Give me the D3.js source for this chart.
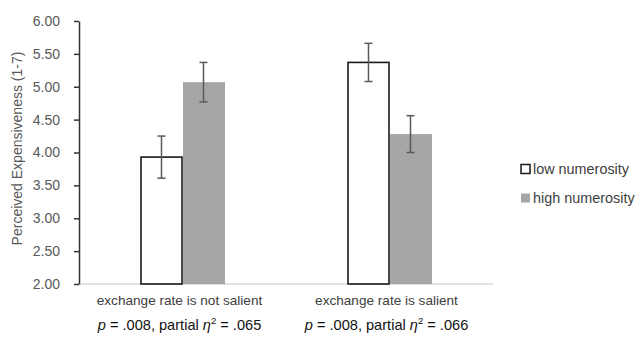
<!DOCTYPE html>
<html>
<head>
<meta charset="utf-8">
<script src="https://cdn.jsdelivr.net/npm/d3@7"></script>
<style>
  body { margin: 0; background: #fff; }
  svg { font-family: "Liberation Sans", Arial, sans-serif; }
</style>
</head>
<body>
<svg id="drawing_region"></svg>
<script>
// chart values
const categories = ['exchange rate is not salient', 'exchange rate is salient'];
const stats = [{ p: '.008', eta: '.065' }, { p: '.008', eta: '.066' }];
const seriesNames = ['low numerosity', 'high numerosity'];
const lowValues = [3.93, 5.37];
const highValues = [5.07, 4.28];
const lowErrors = [0.32, 0.29];
const highErrors = [0.30, 0.28];
const yTicks = [2, 2.5, 3, 3.5, 4, 4.5, 5, 5.5, 6];

const width = 637, height = 341;
const margin = { left: 79, right: 144, top: 21, bottom: 57 };

const svg = d3.select('#drawing_region')
    .attr('width', width)
    .attr('height', height);

const x = d3.scaleBand()
    .domain(categories)
    .range([margin.left, width - margin.right]);

const y = d3.scaleLinear()
    .domain([2, 6])
    .range([height - margin.bottom, margin.top]);

const barW = 42;
const series = [
    { name: seriesNames[0], values: lowValues, errors: lowErrors, fill: '#ffffff', stroke: '#1a1a1a' },
    { name: seriesNames[1], values: highValues, errors: highErrors, fill: '#a6a6a6', stroke: 'none' }
];

// x axis baseline
svg.append('line')
    .attr('x1', margin.left).attr('x2', width - margin.right)
    .attr('y1', y(2)).attr('y2', y(2))
    .attr('stroke', '#d9d9d9').attr('stroke-width', 1.5);

// bars
series.forEach((s, si) => {
    svg.append('g').selectAll('rect')
        .data(categories)
        .enter()
        .append('rect')
        .attr('x', d => x(d) + x.bandwidth() / 2 - barW + si * barW + 0.5)
        .attr('y', (d, i) => y(s.values[i]))
        .attr('width', barW - (si === 0 ? 1 : 0))
        .attr('height', (d, i) => y(2) - y(s.values[i]))
        .attr('fill', s.fill)
        .attr('stroke', s.stroke)
        .attr('stroke-width', 1.6);
});

// error bars
series.forEach((s, si) => {
    const g = svg.append('g').attr('stroke', '#595959').attr('stroke-width', 1.5);
    categories.forEach((c, i) => {
        const cx = x(c) + x.bandwidth() / 2 - barW / 2 + si * barW;
        const hi = y(s.values[i] + s.errors[i]);
        const lo = y(s.values[i] - s.errors[i]);
        g.append('line').attr('x1', cx).attr('x2', cx).attr('y1', hi).attr('y2', lo);
        g.append('line').attr('x1', cx - 4).attr('x2', cx + 4).attr('y1', hi).attr('y2', hi);
        g.append('line').attr('x1', cx - 4).attr('x2', cx + 4).attr('y1', lo).attr('y2', lo);
    });
});

// y axis
const yAxis = svg.append('g')
    .attr('transform', `translate(${margin.left},0)`)
    .call(d3.axisLeft(y).tickValues(yTicks).tickFormat(d3.format('.2f')).tickSize(5).tickSizeOuter(0));
yAxis.select('.domain').attr('stroke', '#333').attr('stroke-width', 1.5);
yAxis.selectAll('.tick line').attr('stroke', '#333').attr('stroke-width', 1.5);
yAxis.selectAll('.tick text')
    .attr('x', -19)
    .attr('fill', '#595959')
    .style('font-size', '14px')
    .style('font-family', '"Liberation Sans", Arial, sans-serif');

svg.append('text')
    .attr('transform', `translate(22,${(y(2) + y(6)) / 2 - 4}) rotate(-90)`)
    .attr('text-anchor', 'middle')
    .attr('fill', '#595959')
    .style('font-size', '14px')
    .text('Perceived Expensiveness (1-7)');

// category labels
svg.append('g').selectAll('text')
    .data(categories)
    .enter()
    .append('text')
    .attr('x', d => x(d) + x.bandwidth() / 2 - 3)
    .attr('y', 305)
    .attr('text-anchor', 'middle')
    .attr('fill', '#404040')
    .style('font-size', '13.6px')
    .text(d => d);

const statText = svg.append('g').selectAll('text')
    .data(categories)
    .enter()
    .append('text')
    .attr('x', d => x(d) + x.bandwidth() / 2 - 3)
    .attr('y', 330)
    .attr('text-anchor', 'middle')
    .attr('fill', '#111')
    .style('font-size', '14.6px');
statText.each(function (d, i) {
    const t = d3.select(this);
    t.append('tspan').style('font-style', 'italic').text('p');
    t.append('tspan').text(` = ${stats[i].p}, partial `);
    t.append('tspan').style('font-style', 'italic').text('η');
    t.append('tspan').attr('dy', -6).style('font-size', '9.5px').text('2');
    t.append('tspan').attr('dy', 6).text(` = ${stats[i].eta}`);
});

// legend
const legend = svg.append('g');
series.forEach((s, si) => {
    const ly = 169 + si * 29;
    legend.append('rect')
        .attr('x', 521).attr('y', ly - 4.5)
        .attr('width', 9).attr('height', 9)
        .attr('fill', s.fill)
        .attr('stroke', s.stroke === 'none' ? 'none' : '#1a1a1a')
        .attr('stroke-width', 1.5);
    legend.append('text')
        .attr('x', 533).attr('y', ly + 5)
        .attr('fill', '#404040')
        .style('font-size', '14.4px')
        .text(s.name);
});
</script>
</body>
</html>
